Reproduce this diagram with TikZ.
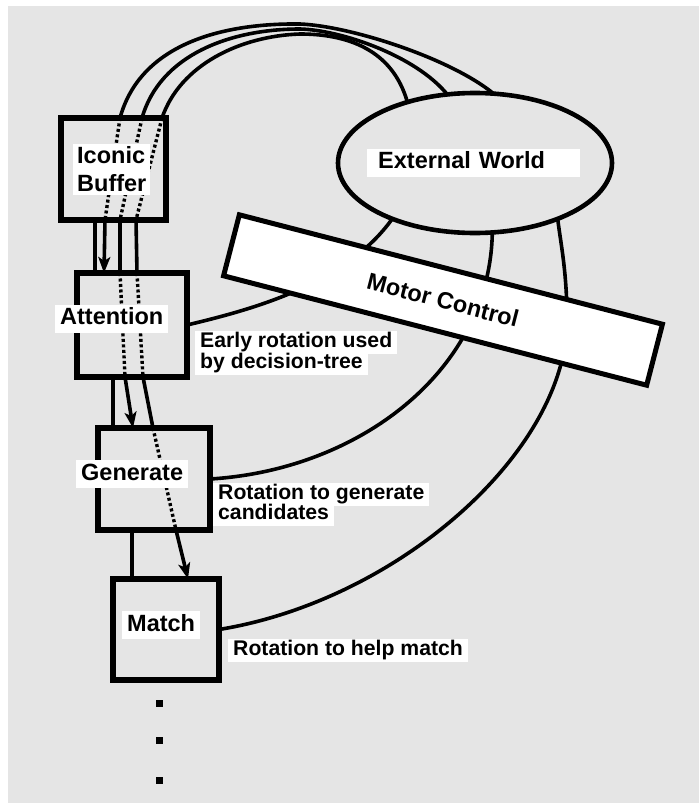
\documentclass[tikz,border=0pt]{standalone}
\usepackage{fontspec}
\setmainfont{Liberation Sans}
\usetikzlibrary{arrows.meta,shapes.geometric,calc}
\definecolor{paper}{RGB}{229,229,229}
\begin{document}
\begin{tikzpicture}[x=1pt,y=-1pt,
  box/.style={draw, line width=6pt, inner sep=0pt, outer sep=0pt},
  conn/.style={line width=3.6pt},
  hidden/.style={line width=3.4pt, dash pattern=on 3pt off 2.5pt},
  arr/.style={conn, -{Stealth[length=16pt,width=12pt,inset=4pt]}},
  boxlbl/.style={fill=white, inner xsep=5pt, inner ysep=3pt, text height=17pt,
    text depth=5pt, anchor=west, font=\fontsize{23.5}{28}\selectfont\bfseries},
  sidelbl/.style={fill=white, inner xsep=5pt, inner ysep=1.5pt, text height=15.5pt,
    text depth=4.5pt, anchor=west, font=\fontsize{21.2}{24}\selectfont\bfseries},
  dotmark/.style={fill=black, minimum size=7pt, inner sep=0pt},
]
\useasboundingbox (0,0) rectangle (699,803);
\fill[white] (0,0) rectangle (699,803);
\fill[paper] (8,6) rectangle (699,803);

% processing stages
\node[box, minimum width=105pt, minimum height=102pt] (buf) at (113.5,169) {};
\node[box, minimum width=110pt, minimum height=104pt] (att) at (132,325) {};
\node[box, minimum width=112pt, minimum height=102pt] (gen) at (154,479) {};
\node[box, minimum width=106pt, minimum height=101pt] (mat) at (166,629.5) {};
\node[ellipse, draw, line width=4.6pt, minimum width=274pt, minimum height=140pt,
      inner sep=0pt, outer sep=0pt] (ew) at (475,163) {};

% entry points of the three sensory paths
\coordinate (ta) at ($(buf.north west)+(59,0)$);
\coordinate (tb) at ($(buf.north west)+(81,0)$);
\coordinate (tc) at ($(buf.north west)+(101,0)$);
\coordinate (pa1) at ($(buf.south west)+(44,0)$);
\coordinate (pb1) at ($(buf.south west)+(59,0)$);
\coordinate (pc1) at ($(buf.south west)+(75,0)$);
\coordinate (pa2) at ($(att.north west)+(27,0)$);
\coordinate (pb2) at ($(att.north west)+(43,0)$);
\coordinate (pc2) at ($(att.north west)+(60,0)$);
\coordinate (pb3) at ($(att.south west)+(48,0)$);
\coordinate (pc3) at ($(att.south west)+(66,0)$);
\coordinate (pb4) at ($(gen.north west)+(35,0)$);
\coordinate (pc4) at ($(gen.north west)+(55,0)$);
\coordinate (pc5) at ($(gen.south west)+(78,0)$);
\coordinate (pc6) at ($(mat.north west)+(75,0)$);

% arcs from the external world into the iconic buffer
\draw[conn] (ew.75.6) .. controls (450,58) and (350,26) .. (300,24)
            .. controls (220,23) and (140,45) .. (ta);
\draw[conn] (ew.112.4) .. controls (415,55) and (340,30) .. (300,29)
            .. controls (230,29) and (160,55) .. (tb);
\draw[conn] (ew.138.8) .. controls (392,48) and (345,34) .. (300,34)
            .. controls (240,36) and (180,65) .. (tc);

% paths running down through the stages
\draw[hidden] (ta) -- (pa1);
\draw[arr] (pa1) -- (pa2);
\draw[hidden] (tb) -- (pb1);
\draw[conn] (pb1) -- (pb2);
\draw[hidden] (pb2) -- (pb3);
\draw[arr] (pb3) -- (pb4);
\draw[hidden] (tc) -- (pc1);
\draw[conn] (pc1) -- (pc2);
\draw[hidden] (pc2) -- (pc3);
\draw[conn] (pc3) -- (pc4);
\draw[hidden] (pc4) -- (pc5);
\draw[arr] (pc5) -- (pc6);

% stage-to-stage links
\draw[conn] ($(buf.south west)+(34,0)$) -- ($(att.north west)+(18,0)$);
\draw[conn] ($(att.south west)+(36,0)$) -- ($(gen.north west)+(15,0)$);
\draw[conn] ($(gen.south west)+(34,0)$) -- ($(mat.north west)+(19,0)$);

% rotation links to the external world
\draw[conn] (att.east) .. controls (250,310) and (345,285) .. (ew.214);
\draw[conn] (gen.east) .. controls (360,470) and (490,370) .. (ew.284.4);
\draw[conn] (mat.east) .. controls (400,600) and (567,450) .. (567,320)
            .. controls (567,270) and (560,240) .. (ew.326);

% motor control bar
\node[draw, fill=white, line width=5pt, rotate=-14.5, minimum width=437pt,
      minimum height=63pt, inner sep=0pt,
      font=\fontsize{23.5}{28}\selectfont\bfseries] (mc) at (443,300) {Motor Control};

% labels
\node[fill=white, inner xsep=4pt, inner ysep=3pt, anchor=west, align=left,
      font=\fontsize{23.5}{28}\selectfont\bfseries] (buflbl) at (73,169.5) {Iconic\\Buffer};
\node[boxlbl] (attlbl) at (55,318.5) {Attention};
\node[boxlbl] (genlbl) at (76,474) {Generate};
\node[boxlbl] (matlbl) at (122,625) {Match};
\node[boxlbl, inner xsep=11pt, text width=191pt, align=left] (ewlbl) at (367,162.5) {External World};

\node[sidelbl] (early1) at (195,342) {Early rotation used};
\node[sidelbl] (early2) at (195,363) {by decision-tree};
\node[sidelbl] (gen1) at (213,494) {Rotation to generate};
\node[sidelbl] (gen2) at (213,514) {candidates};
\node[sidelbl] (mat1) at (228,650) {Rotation to help match};

% continuation dots
\node[dotmark] (dot1) at (159,703) {};
\node[dotmark] (dot2) at (159,740) {};
\node[dotmark] (dot3) at (159,780) {};
\end{tikzpicture}
\end{document}
